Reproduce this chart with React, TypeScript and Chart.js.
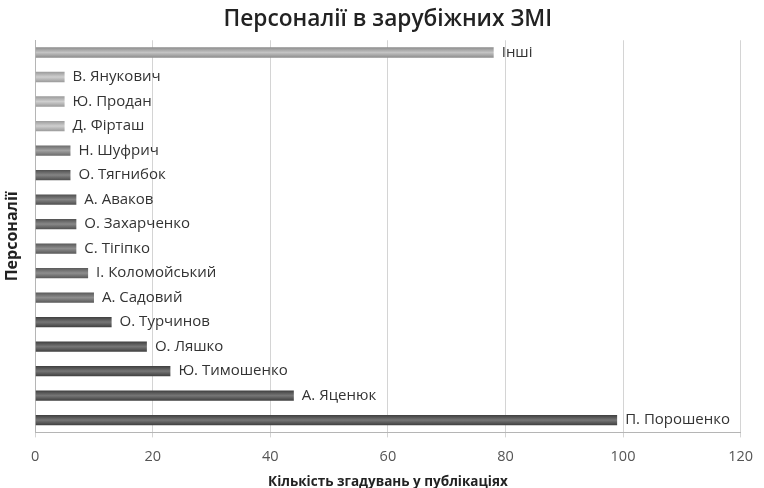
import React, { useEffect, useRef } from "react";
import { Chart, registerables } from "chart.js";

Chart.register(...registerables);

const names = [
  "Інші",
  "В. Янукович",
  "Ю. Продан",
  "Д. Фірташ",
  "Н. Шуфрич",
  "О. Тягнибок",
  "А. Аваков",
  "О. Захарченко",
  "С. Тігіпко",
  "І. Коломойський",
  "А. Садовий",
  "О. Турчинов",
  "О. Ляшко",
  "Ю. Тимошенко",
  "А. Яценюк",
  "П. Порошенко",
];
const mentions = [78, 5, 5, 5, 6, 6, 7, 7, 7, 9, 10, 13, 19, 23, 44, 99];
// [edge colour, centre colour] per bar
const barShades: [string, string][] = [
  ["#8e8e8e", "#c4c4c4"],
  ["#9c9c9c", "#cfcfcf"],
  ["#9c9c9c", "#cfcfcf"],
  ["#9c9c9c", "#cfcfcf"],
  ["#6c6c6c", "#a2a2a2"],
  ["#505050", "#858585"],
  ["#505050", "#858585"],
  ["#525252", "#888888"],
  ["#5a5a5a", "#8e8e8e"],
  ["#5a5a5a", "#8e8e8e"],
  ["#5a5a5a", "#8e8e8e"],
  ["#404040", "#767676"],
  ["#404040", "#767676"],
  ["#404040", "#767676"],
  ["#404040", "#767676"],
  ["#404040", "#767676"],
];
const xTicks = [0, 20, 40, 60, 80, 100, 120];

const FONT = "'Open Sans', 'DejaVu Sans', sans-serif";

const labelPlugin = {
  id: "barNameLabels",
  afterLayout(chart: any) {
    const tb = chart.titleBlock;
    if (tb && chart.chartArea) {
      tb.left = chart.chartArea.left;
      tb.right = chart.chartArea.right;
    }
  },
  afterDatasetsDraw(chart: any) {
    const ctx = chart.ctx;
    const meta = chart.getDatasetMeta(0);
    ctx.save();
    ctx.font = `15px ${FONT}`;
    ctx.fillStyle = "#333333";
    ctx.textAlign = "left";
    ctx.textBaseline = "middle";
    meta.data.forEach((el: any, i: number) => {
      ctx.fillText(names[i], el.x + 8, el.y);
    });
    ctx.restore();
  },
};

export default function App() {
  const ref = useRef<HTMLCanvasElement | null>(null);
  useEffect(() => {
    document.body.style.margin = "0";
    const canvas = ref.current!;
    const chart = new Chart(canvas, {
      type: "bar",
      data: {
        labels: names,
        datasets: [
          {
            data: mentions,
            backgroundColor: (c: any) => {
              const ch = c.chart;
              const y = ch.scales?.y;
              const i = c.dataIndex;
              if (!y || i === undefined) return barShades[0][1];
              const py = y.getPixelForValue(i);
              if (!Number.isFinite(py)) return barShades[i][1];
              const g = ch.ctx.createLinearGradient(0, py - 5, 0, py + 5);
              const [edge, mid] = barShades[i];
              g.addColorStop(0, edge);
              g.addColorStop(0.5, mid);
              g.addColorStop(1, edge);
              return g;
            },
            borderWidth: 0,
            barPercentage: 0.42,
            categoryPercentage: 1,
          },
        ],
      },
      options: {
        indexAxis: "y",
        animation: false,
        responsive: false,
        layout: { padding: { left: 2, right: 15, top: 0, bottom: 0 } },
        plugins: {
          legend: { display: false },
          tooltip: { enabled: false },
          title: {
            display: true,
            text: "Персоналії в зарубіжних ЗМІ",
            color: "#222222",
            font: { family: FONT, size: 22.7, weight: "600" },
            padding: { top: 6, bottom: 7 },
          },
        },
        scales: {
          x: {
            type: "linear",
            min: 0,
            max: 120,
            afterBuildTicks: (s: any) => {
              s.ticks = xTicks.map((v) => ({ value: v }));
            },
            ticks: {
              color: "#555555",
              font: { family: FONT, size: 14.5 },
              padding: 11,
            },
            grid: {
              color: "#d4d4d4",
              tickLength: 5,
              drawTicks: true,
            },
            border: { display: true, color: "#b5b5b5" },
            title: {
              display: true,
              text: "Кількість згадувань у публікаціях",
              color: "#222222",
              font: { family: FONT, size: 13.5, weight: "bold" },
              padding: { top: -3, bottom: -2 },
            },
          },
          y: {
            ticks: { display: false },
            grid: { display: false, drawTicks: false },
            border: { display: true, color: "#b5b5b5" },
            title: {
              display: true,
              text: "Персоналії",
              color: "#222222",
              font: { family: FONT, size: 16, weight: "bold" },
              padding: { top: 1, bottom: 13 },
            },
          },
        },
      },
      plugins: [labelPlugin],
    } as any);
    chart.update();
    return () => chart.destroy();
  }, []);
  return (
    <div style={{ width: 764, height: 488, background: "#ffffff" }}>
      <canvas ref={ref} width={764} height={488} style={{ display: "block" }} />
    </div>
  );
}
